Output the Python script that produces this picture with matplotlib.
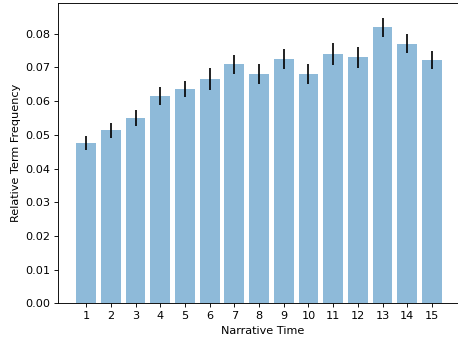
import numpy as np
from matplotlib import pyplot as plt

# mean relative term frequency per narrative time bin, with standard error
times = np.arange(1, 16)
freq = [0.0477, 0.0513, 0.0550, 0.0615, 0.0636, 0.0665, 0.0709, 0.0680,
        0.0725, 0.0680, 0.0740, 0.0730, 0.0819, 0.0770, 0.0722]
err = [0.0021, 0.0021, 0.0025, 0.0026, 0.0025, 0.0032, 0.0029, 0.0029,
       0.0029, 0.0029, 0.0034, 0.0031, 0.0029, 0.0028, 0.0028]

dpi = 81
fig = plt.figure(figsize=(458 / dpi, 343 / dpi), dpi=dpi)
# axes run a little past the right edge of the figure
ax = fig.add_axes([58 / 458, 39.7 / 343, 410 / 458, 300 / 343])

ax.bar(times, freq, yerr=err, alpha=0.5, ecolor='k', error_kw=dict(elinewidth=1.5))
ax.set_xlim(-0.14, 16.46)
ax.set_xticks(times)
ax.set_xlabel('Narrative Time')
ax.set_ylabel('Relative Term Frequency')
ax.spines['right'].set_visible(False)

fig.savefig('out.png', dpi=dpi)
